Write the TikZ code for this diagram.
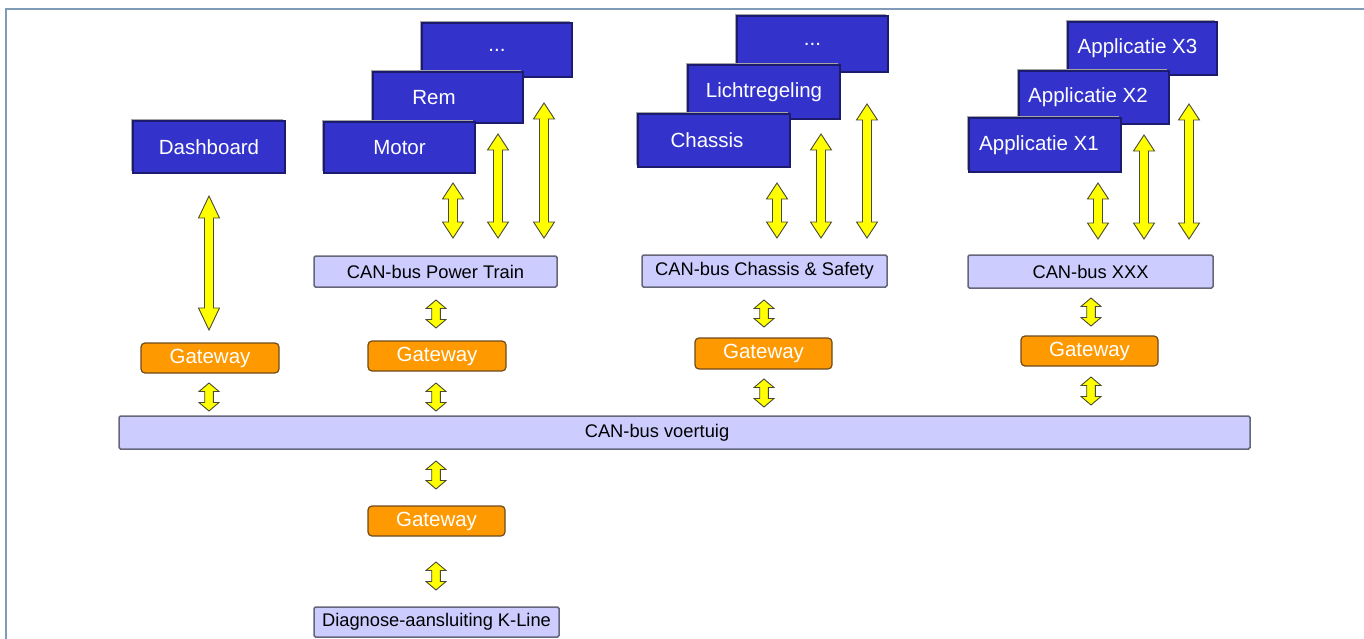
\documentclass[tikz,border=0pt]{standalone}
\usepackage{fontspec}
\setmainfont{Liberation Sans}
\usetikzlibrary{calc,shadows}
\definecolor{ecublue}{HTML}{3333CC}
\definecolor{ecuedge}{HTML}{1C1C6E}
\definecolor{busfill}{HTML}{CCCCFF}
\definecolor{busedge}{HTML}{66667A}
\definecolor{gwfill}{HTML}{FF9900}
\definecolor{gwedge}{HTML}{6E4A1C}
\definecolor{yarrow}{HTML}{FFFF00}
\definecolor{yedge}{HTML}{4A4A30}
\definecolor{framecol}{HTML}{7F9BB8}
\tikzset{
  ecu/.style={draw=ecuedge, line width=1.2pt, fill=ecublue, text=white, inner sep=0pt,
    font=\fontsize{20.5}{24}\selectfont,
    drop shadow={shadow xshift=-2pt, shadow yshift=2pt, fill=black!35, opacity=1}},
  bus/.style={draw=busedge, line width=1.5pt, fill=busfill, text=black, inner sep=0pt,
    rounded corners=1.5pt, font=\fontsize{18.3}{22}\selectfont},
  gw/.style={draw=gwedge, line width=1.2pt, fill=gwfill, text=white, inner sep=0pt,
    rounded corners=4pt, minimum width=137pt, minimum height=30pt,
    font=\fontsize{20.5}{24}\selectfont},
  nudge/.style={execute at begin node={\hspace*{#1}}},
  ya/.style n args={3}{draw=yedge, line width=0.9pt, fill=yarrow, line join=miter,
    to path={let \p1=(\tikztostart), \p2=(\tikztotarget) in
      (\x1,\y1) -- (\x1+#2,\y1-#3) -- (\x1+#1,\y1-#3) -- (\x1+#1,\y2+#3) -- (\x1+#2,\y2+#3)
      -- (\x1,\y2) -- (\x1-#2,\y2+#3) -- (\x1-#1,\y2+#3) -- (\x1-#1,\y1-#3) -- (\x1-#2,\y1-#3) -- cycle}},
  longarrow/.style={ya={4.5pt}{10.5pt}{16pt}},
  shortarrow/.style={ya={4.3pt}{10pt}{8.5pt}},
  dasharrow/.style={ya={4.5pt}{10.5pt}{22pt}},
}
\begin{document}
\begin{tikzpicture}[x=1pt,y=-1pt]
\useasboundingbox (0,0) rectangle (1364,639);
% frame
\draw[framecol, line width=2pt] (6,640) -- (6,9) -- (1365,9);

% ECU boxes (back to front)
\node[ecu, minimum width=152pt, minimum height=52pt] (dash) at (209,147) {Dashboard};

\node[ecu, minimum width=150pt, minimum height=54pt] (ptdots) at (497,50) {...};
\node[ecu, minimum width=150pt, minimum height=51pt, nudge=-28pt] (rem) at (448,97.5) {Rem};
\node[ecu, minimum width=151pt, minimum height=51pt] (motor) at (399.5,147.5) {Motor};

\node[ecu, minimum width=151pt, minimum height=56pt] (csdots) at (812.5,44) {...};
\node[ecu, minimum width=152pt, minimum height=54pt] (licht) at (764,92) {Lichtregeling};
\node[ecu, minimum width=152pt, minimum height=53pt, nudge=-14pt] (chassis) at (714,140.5) {Chassis};

\node[ecu, minimum width=149pt, minimum height=53pt, nudge=-10pt] (x3) at (1142.5,48.5) {Applicatie X3};
\node[ecu, minimum width=150pt, minimum height=53pt, nudge=-12pt] (x2) at (1094,97.5) {Applicatie X2};
\node[ecu, minimum width=152pt, minimum height=54pt, nudge=-12pt] (x1) at (1045,145) {Applicatie X1};

% buses
\node[bus, minimum width=243pt, minimum height=31pt] (cpt) at (435.5,271.5) {CAN-bus Power Train};
\node[bus, minimum width=245pt, minimum height=32pt] (ccs) at (764.5,271) {CAN-bus Chassis \& Safety};
\node[bus, minimum width=245pt, minimum height=33pt] (cxx) at (1090.5,271.5) {CAN-bus XXX};
\node[bus, minimum width=1131pt, minimum height=33pt, nudge=-55pt] (cv) at (684.5,432.5) {CAN-bus voertuig};
\node[bus, minimum width=245pt, minimum height=30pt] (diag) at (436.5,622) {Diagnose-aansluiting K-Line};

% gateways
\node[gw, minimum width=138pt] (gd) at (210,358) {Gateway};
\node[gw, minimum width=138pt] (gpt) at (437,356) {Gateway};
\node[gw, minimum width=137pt, minimum height=31pt] (gcs) at (763.5,353.5) {Gateway};
\node[gw] (gx) at (1089.5,351) {Gateway};
\node[gw] (gk) at (436.5,521) {Gateway};

% arrow end points
\coordinate (d1t) at (209,196);  \coordinate (d1b) at (209,330);
\coordinate (d2t) at (209,383);  \coordinate (d2b) at (209,411);

\coordinate (p1t) at (453,183);  \coordinate (p1b) at (453,238);
\coordinate (p2t) at (498,134);  \coordinate (p2b) at (498,238);
\coordinate (p3t) at (544,103);  \coordinate (p3b) at (544,238);
\coordinate (p4t) at (436,300);  \coordinate (p4b) at (436,328);
\coordinate (p5t) at (436,383);  \coordinate (p5b) at (436,411);
\coordinate (k1t) at (436,461);  \coordinate (k1b) at (436,489);
\coordinate (k2t) at (436,562);  \coordinate (k2b) at (436,590);

\coordinate (c1t) at (777,183);  \coordinate (c1b) at (777,238);
\coordinate (c2t) at (821,134);  \coordinate (c2b) at (821,238);
\coordinate (c3t) at (867,104);  \coordinate (c3b) at (867,238);
\coordinate (c4t) at (764,300);  \coordinate (c4b) at (764,327);
\coordinate (c5t) at (764,379);  \coordinate (c5b) at (764,407);

\coordinate (x1t) at (1098,183); \coordinate (x1b) at (1098,239);
\coordinate (x2t) at (1144,135); \coordinate (x2b) at (1144,239);
\coordinate (x3t) at (1189,104); \coordinate (x3b) at (1189,239);
\coordinate (x4t) at (1091,298); \coordinate (x4b) at (1091,326);
\coordinate (x5t) at (1091,377); \coordinate (x5b) at (1091,405);

% arrows
\draw[dasharrow] (d1t) to (d1b);
\draw[shortarrow] (d2t) to (d2b);

\draw[longarrow] (p1t) to (p1b);
\draw[longarrow] (p2t) to (p2b);
\draw[longarrow] (p3t) to (p3b);
\draw[shortarrow] (p4t) to (p4b);
\draw[shortarrow] (p5t) to (p5b);
\draw[shortarrow] (k1t) to (k1b);
\draw[shortarrow] (k2t) to (k2b);

\draw[longarrow] (c1t) to (c1b);
\draw[longarrow] (c2t) to (c2b);
\draw[longarrow] (c3t) to (c3b);
\draw[shortarrow] (c4t) to (c4b);
\draw[shortarrow] (c5t) to (c5b);

\draw[longarrow] (x1t) to (x1b);
\draw[longarrow] (x2t) to (x2b);
\draw[longarrow] (x3t) to (x3b);
\draw[shortarrow] (x4t) to (x4b);
\draw[shortarrow] (x5t) to (x5b);
\end{tikzpicture}
\end{document}
